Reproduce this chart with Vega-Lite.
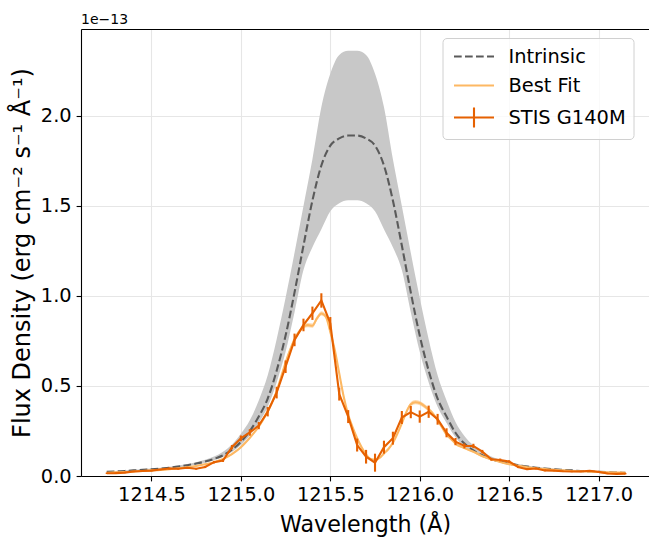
{
 "$schema": "https://vega.github.io/schema/vega-lite/v6.json",
 "width": 568,
 "height": 447,
 "autosize": {"type": "none"},
 "padding": {"left": 81, "top": 29, "right": 0, "bottom": 61},
 "title": {"text": "1e−13", "anchor": "start", "frame": "group", "fontSize": 14, "font": "DejaVu Sans", "fontWeight": "normal", "color": "#000000", "offset": 5, "baseline": "alphabetic", "dy": 14},
 "config": {
  "view": {"stroke": null},
  "font": "DejaVu Sans",
  "axis": {"labelFont": "DejaVu Sans", "titleFont": "DejaVu Sans", "labelFontSize": 19.4, "titleFontSize": 22.2, "titleFontWeight": "normal", "labelColor": "#000000", "titleColor": "#000000", "domainColor": "#000000", "domainWidth": 1.1, "tickColor": "#000000", "tickWidth": 1.1, "tickSize": 4.9, "labelPadding": 4.9, "gridColor": "#e6e6e6", "gridWidth": 1.1, "labelFlush": false, "labelOverlap": false},
  "legend": {"labelFont": "DejaVu Sans", "labelFontSize": 19.4, "labelColor": "#000000", "symbolSize": 400, "symbolStrokeWidth": 2.1, "symbolOffset": 13, "labelOffset": 23, "rowPadding": 8, "padding": 7, "strokeColor": "#d0d0d0", "fillColor": "rgba(255,255,255,0.8)", "cornerRadius": 4}
 },
 "datasets": {
  "intr": [
   {"w": 1214.25, "f": 0.023, "lo": 0.021, "hi": 0.026},
   {"w": 1214.30, "f": 0.025, "lo": 0.023, "hi": 0.028},
   {"w": 1214.35, "f": 0.028, "lo": 0.026, "hi": 0.031},
   {"w": 1214.40, "f": 0.031, "lo": 0.028, "hi": 0.035},
   {"w": 1214.45, "f": 0.034, "lo": 0.031, "hi": 0.038},
   {"w": 1214.50, "f": 0.037, "lo": 0.034, "hi": 0.041},
   {"w": 1214.55, "f": 0.041, "lo": 0.037, "hi": 0.046},
   {"w": 1214.60, "f": 0.046, "lo": 0.042, "hi": 0.051},
   {"w": 1214.65, "f": 0.052, "lo": 0.047, "hi": 0.058},
   {"w": 1214.70, "f": 0.060, "lo": 0.054, "hi": 0.067},
   {"w": 1214.75, "f": 0.069, "lo": 0.062, "hi": 0.077},
   {"w": 1214.80, "f": 0.080, "lo": 0.074, "hi": 0.090},
   {"w": 1214.85, "f": 0.095, "lo": 0.087, "hi": 0.108},
   {"w": 1214.90, "f": 0.115, "lo": 0.105, "hi": 0.135},
   {"w": 1214.95, "f": 0.146, "lo": 0.133, "hi": 0.175},
   {"w": 1215.00, "f": 0.19, "lo": 0.172, "hi": 0.235},
   {"w": 1215.05, "f": 0.25, "lo": 0.225, "hi": 0.31},
   {"w": 1215.10, "f": 0.33, "lo": 0.295, "hi": 0.42},
   {"w": 1215.15, "f": 0.43, "lo": 0.385, "hi": 0.56},
   {"w": 1215.20, "f": 0.585, "lo": 0.52, "hi": 0.76},
   {"w": 1215.25, "f": 0.78, "lo": 0.69, "hi": 0.99},
   {"w": 1215.30, "f": 1.02, "lo": 0.91, "hi": 1.24},
   {"w": 1215.35, "f": 1.28, "lo": 1.144, "hi": 1.50},
   {"w": 1215.40, "f": 1.53, "lo": 1.27, "hi": 1.76},
   {"w": 1215.45, "f": 1.725, "lo": 1.37, "hi": 2.05},
   {"w": 1215.50, "f": 1.835, "lo": 1.47, "hi": 2.235},
   {"w": 1215.55, "f": 1.875, "lo": 1.515, "hi": 2.339},
   {"w": 1215.60, "f": 1.891, "lo": 1.532, "hi": 2.362},
   {"w": 1215.65, "f": 1.891, "lo": 1.532, "hi": 2.362},
   {"w": 1215.70, "f": 1.875, "lo": 1.515, "hi": 2.339},
   {"w": 1215.75, "f": 1.835, "lo": 1.47, "hi": 2.235},
   {"w": 1215.80, "f": 1.725, "lo": 1.37, "hi": 2.05},
   {"w": 1215.85, "f": 1.53, "lo": 1.27, "hi": 1.76},
   {"w": 1215.90, "f": 1.28, "lo": 1.144, "hi": 1.50},
   {"w": 1215.95, "f": 1.02, "lo": 0.91, "hi": 1.24},
   {"w": 1216.00, "f": 0.78, "lo": 0.69, "hi": 0.99},
   {"w": 1216.05, "f": 0.585, "lo": 0.52, "hi": 0.76},
   {"w": 1216.10, "f": 0.43, "lo": 0.385, "hi": 0.56},
   {"w": 1216.15, "f": 0.33, "lo": 0.295, "hi": 0.42},
   {"w": 1216.20, "f": 0.24, "lo": 0.215, "hi": 0.30},
   {"w": 1216.25, "f": 0.18, "lo": 0.163, "hi": 0.222},
   {"w": 1216.30, "f": 0.142, "lo": 0.13, "hi": 0.17},
   {"w": 1216.35, "f": 0.115, "lo": 0.105, "hi": 0.135},
   {"w": 1216.40, "f": 0.095, "lo": 0.087, "hi": 0.108},
   {"w": 1216.45, "f": 0.080, "lo": 0.074, "hi": 0.090},
   {"w": 1216.50, "f": 0.069, "lo": 0.062, "hi": 0.077},
   {"w": 1216.55, "f": 0.060, "lo": 0.054, "hi": 0.067},
   {"w": 1216.60, "f": 0.052, "lo": 0.047, "hi": 0.058},
   {"w": 1216.65, "f": 0.046, "lo": 0.042, "hi": 0.051},
   {"w": 1216.70, "f": 0.041, "lo": 0.037, "hi": 0.046},
   {"w": 1216.75, "f": 0.037, "lo": 0.034, "hi": 0.041},
   {"w": 1216.80, "f": 0.034, "lo": 0.031, "hi": 0.038},
   {"w": 1216.85, "f": 0.031, "lo": 0.028, "hi": 0.035},
   {"w": 1216.90, "f": 0.028, "lo": 0.026, "hi": 0.031},
   {"w": 1216.95, "f": 0.025, "lo": 0.023, "hi": 0.028},
   {"w": 1217.00, "f": 0.023, "lo": 0.021, "hi": 0.026},
   {"w": 1217.05, "f": 0.021, "lo": 0.019, "hi": 0.024},
   {"w": 1217.10, "f": 0.019, "lo": 0.017, "hi": 0.022},
   {"w": 1217.15, "f": 0.018, "lo": 0.016, "hi": 0.020}
  ],
  "fit": [
   {"w": 1214.25, "f": 0.018, "lo": 0.015, "hi": 0.021},
   {"w": 1214.30, "f": 0.020, "lo": 0.017, "hi": 0.023},
   {"w": 1214.35, "f": 0.022, "lo": 0.019, "hi": 0.025},
   {"w": 1214.40, "f": 0.025, "lo": 0.022, "hi": 0.028},
   {"w": 1214.45, "f": 0.028, "lo": 0.025, "hi": 0.031},
   {"w": 1214.50, "f": 0.031, "lo": 0.028, "hi": 0.034},
   {"w": 1214.55, "f": 0.034, "lo": 0.031, "hi": 0.037},
   {"w": 1214.60, "f": 0.038, "lo": 0.035, "hi": 0.041},
   {"w": 1214.65, "f": 0.043, "lo": 0.040, "hi": 0.046},
   {"w": 1214.70, "f": 0.049, "lo": 0.046, "hi": 0.052},
   {"w": 1214.75, "f": 0.056, "lo": 0.053, "hi": 0.059},
   {"w": 1214.80, "f": 0.065, "lo": 0.062, "hi": 0.068},
   {"w": 1214.85, "f": 0.077, "lo": 0.074, "hi": 0.080},
   {"w": 1214.90, "f": 0.095, "lo": 0.092, "hi": 0.098},
   {"w": 1214.95, "f": 0.122, "lo": 0.116, "hi": 0.128},
   {"w": 1215.000, "f": 0.16, "lo": 0.154, "hi": 0.166},
   {"w": 1215.025, "f": 0.185, "lo": 0.179, "hi": 0.191},
   {"w": 1215.050, "f": 0.212, "lo": 0.206, "hi": 0.218},
   {"w": 1215.075, "f": 0.242, "lo": 0.236, "hi": 0.248},
   {"w": 1215.100, "f": 0.274, "lo": 0.268, "hi": 0.280},
   {"w": 1215.125, "f": 0.315, "lo": 0.303, "hi": 0.327},
   {"w": 1215.150, "f": 0.36, "lo": 0.348, "hi": 0.372},
   {"w": 1215.175, "f": 0.41, "lo": 0.398, "hi": 0.422},
   {"w": 1215.200, "f": 0.47, "lo": 0.458, "hi": 0.482},
   {"w": 1215.225, "f": 0.55, "lo": 0.538, "hi": 0.562},
   {"w": 1215.250, "f": 0.63, "lo": 0.618, "hi": 0.642},
   {"w": 1215.275, "f": 0.70, "lo": 0.688, "hi": 0.712},
   {"w": 1215.300, "f": 0.76, "lo": 0.748, "hi": 0.772},
   {"w": 1215.325, "f": 0.80, "lo": 0.788, "hi": 0.812},
   {"w": 1215.350, "f": 0.83, "lo": 0.818, "hi": 0.842},
   {"w": 1215.375, "f": 0.838, "lo": 0.826, "hi": 0.850},
   {"w": 1215.400, "f": 0.835, "lo": 0.823, "hi": 0.847},
   {"w": 1215.425, "f": 0.875, "lo": 0.863, "hi": 0.887},
   {"w": 1215.450, "f": 0.903, "lo": 0.891, "hi": 0.915},
   {"w": 1215.475, "f": 0.885, "lo": 0.873, "hi": 0.897},
   {"w": 1215.500, "f": 0.80, "lo": 0.788, "hi": 0.812},
   {"w": 1215.525, "f": 0.70, "lo": 0.688, "hi": 0.712},
   {"w": 1215.550, "f": 0.57, "lo": 0.558, "hi": 0.582},
   {"w": 1215.575, "f": 0.44, "lo": 0.428, "hi": 0.452},
   {"w": 1215.600, "f": 0.34, "lo": 0.328, "hi": 0.352},
   {"w": 1215.625, "f": 0.27, "lo": 0.262, "hi": 0.278},
   {"w": 1215.650, "f": 0.21, "lo": 0.204, "hi": 0.216},
   {"w": 1215.675, "f": 0.16, "lo": 0.154, "hi": 0.166},
   {"w": 1215.700, "f": 0.12, "lo": 0.114, "hi": 0.126},
   {"w": 1215.725, "f": 0.095, "lo": 0.090, "hi": 0.100},
   {"w": 1215.750, "f": 0.09, "lo": 0.085, "hi": 0.095},
   {"w": 1215.775, "f": 0.10, "lo": 0.095, "hi": 0.105},
   {"w": 1215.800, "f": 0.125, "lo": 0.119, "hi": 0.131},
   {"w": 1215.825, "f": 0.15, "lo": 0.144, "hi": 0.156},
   {"w": 1215.850, "f": 0.185, "lo": 0.179, "hi": 0.191},
   {"w": 1215.875, "f": 0.235, "lo": 0.229, "hi": 0.241},
   {"w": 1215.900, "f": 0.293, "lo": 0.285, "hi": 0.301},
   {"w": 1215.925, "f": 0.355, "lo": 0.345, "hi": 0.365},
   {"w": 1215.950, "f": 0.398, "lo": 0.386, "hi": 0.410},
   {"w": 1215.975, "f": 0.41, "lo": 0.398, "hi": 0.422},
   {"w": 1216.000, "f": 0.405, "lo": 0.393, "hi": 0.417},
   {"w": 1216.025, "f": 0.39, "lo": 0.378, "hi": 0.402},
   {"w": 1216.050, "f": 0.37, "lo": 0.358, "hi": 0.382},
   {"w": 1216.075, "f": 0.345, "lo": 0.335, "hi": 0.355},
   {"w": 1216.100, "f": 0.31, "lo": 0.302, "hi": 0.318},
   {"w": 1216.125, "f": 0.27, "lo": 0.263, "hi": 0.277},
   {"w": 1216.150, "f": 0.23, "lo": 0.224, "hi": 0.236},
   {"w": 1216.175, "f": 0.205, "lo": 0.199, "hi": 0.211},
   {"w": 1216.200, "f": 0.18, "lo": 0.174, "hi": 0.186},
   {"w": 1216.25, "f": 0.155, "lo": 0.150, "hi": 0.160},
   {"w": 1216.30, "f": 0.135, "lo": 0.130, "hi": 0.140},
   {"w": 1216.35, "f": 0.11, "lo": 0.106, "hi": 0.114},
   {"w": 1216.40, "f": 0.093, "lo": 0.089, "hi": 0.097},
   {"w": 1216.45, "f": 0.078, "lo": 0.075, "hi": 0.081},
   {"w": 1216.50, "f": 0.066, "lo": 0.063, "hi": 0.069},
   {"w": 1216.55, "f": 0.057, "lo": 0.054, "hi": 0.060},
   {"w": 1216.60, "f": 0.049, "lo": 0.046, "hi": 0.052},
   {"w": 1216.65, "f": 0.043, "lo": 0.040, "hi": 0.046},
   {"w": 1216.70, "f": 0.038, "lo": 0.035, "hi": 0.041},
   {"w": 1216.75, "f": 0.034, "lo": 0.031, "hi": 0.037},
   {"w": 1216.80, "f": 0.031, "lo": 0.028, "hi": 0.034},
   {"w": 1216.85, "f": 0.028, "lo": 0.025, "hi": 0.031},
   {"w": 1216.90, "f": 0.026, "lo": 0.023, "hi": 0.029},
   {"w": 1216.95, "f": 0.024, "lo": 0.021, "hi": 0.027},
   {"w": 1217.00, "f": 0.022, "lo": 0.019, "hi": 0.025},
   {"w": 1217.05, "f": 0.020, "lo": 0.017, "hi": 0.023},
   {"w": 1217.10, "f": 0.019, "lo": 0.016, "hi": 0.022},
   {"w": 1217.15, "f": 0.018, "lo": 0.015, "hi": 0.021}
  ],
  "stis": [
   {"w": 1214.25, "f": 0.015, "lo": 0.011, "hi": 0.019},
   {"w": 1214.30, "f": 0.016, "lo": 0.012, "hi": 0.020},
   {"w": 1214.35, "f": 0.019, "lo": 0.015, "hi": 0.023},
   {"w": 1214.40, "f": 0.025, "lo": 0.021, "hi": 0.029},
   {"w": 1214.45, "f": 0.028, "lo": 0.024, "hi": 0.032},
   {"w": 1214.50, "f": 0.030, "lo": 0.026, "hi": 0.034},
   {"w": 1214.55, "f": 0.036, "lo": 0.032, "hi": 0.040},
   {"w": 1214.60, "f": 0.042, "lo": 0.037, "hi": 0.047},
   {"w": 1214.65, "f": 0.040, "lo": 0.035, "hi": 0.045},
   {"w": 1214.70, "f": 0.046, "lo": 0.041, "hi": 0.051},
   {"w": 1214.75, "f": 0.040, "lo": 0.035, "hi": 0.045},
   {"w": 1214.80, "f": 0.050, "lo": 0.044, "hi": 0.056},
   {"w": 1214.85, "f": 0.077, "lo": 0.070, "hi": 0.084},
   {"w": 1214.90, "f": 0.086, "lo": 0.078, "hi": 0.094},
   {"w": 1214.95, "f": 0.160, "lo": 0.148, "hi": 0.172},
   {"w": 1215.00, "f": 0.209, "lo": 0.193, "hi": 0.225},
   {"w": 1215.05, "f": 0.242, "lo": 0.224, "hi": 0.260},
   {"w": 1215.10, "f": 0.280, "lo": 0.260, "hi": 0.300},
   {"w": 1215.15, "f": 0.357, "lo": 0.331, "hi": 0.383},
   {"w": 1215.20, "f": 0.463, "lo": 0.431, "hi": 0.495},
   {"w": 1215.25, "f": 0.607, "lo": 0.572, "hi": 0.642},
   {"w": 1215.30, "f": 0.756, "lo": 0.721, "hi": 0.791},
   {"w": 1215.35, "f": 0.839, "lo": 0.804, "hi": 0.874},
   {"w": 1215.40, "f": 0.904, "lo": 0.867, "hi": 0.941},
   {"w": 1215.45, "f": 0.975, "lo": 0.935, "hi": 1.015},
   {"w": 1215.50, "f": 0.848, "lo": 0.813, "hi": 0.883},
   {"w": 1215.55, "f": 0.455, "lo": 0.419, "hi": 0.491},
   {"w": 1215.60, "f": 0.330, "lo": 0.294, "hi": 0.366},
   {"w": 1215.65, "f": 0.172, "lo": 0.136, "hi": 0.208},
   {"w": 1215.70, "f": 0.107, "lo": 0.069, "hi": 0.145},
   {"w": 1215.75, "f": 0.074, "lo": 0.024, "hi": 0.124},
   {"w": 1215.80, "f": 0.160, "lo": 0.124, "hi": 0.196},
   {"w": 1215.85, "f": 0.210, "lo": 0.174, "hi": 0.246},
   {"w": 1215.90, "f": 0.325, "lo": 0.289, "hi": 0.361},
   {"w": 1215.95, "f": 0.355, "lo": 0.321, "hi": 0.389},
   {"w": 1216.00, "f": 0.330, "lo": 0.296, "hi": 0.364},
   {"w": 1216.05, "f": 0.357, "lo": 0.323, "hi": 0.391},
   {"w": 1216.10, "f": 0.315, "lo": 0.285, "hi": 0.345},
   {"w": 1216.15, "f": 0.240, "lo": 0.215, "hi": 0.265},
   {"w": 1216.20, "f": 0.191, "lo": 0.171, "hi": 0.211},
   {"w": 1216.25, "f": 0.167, "lo": 0.153, "hi": 0.181},
   {"w": 1216.30, "f": 0.167, "lo": 0.155, "hi": 0.179},
   {"w": 1216.35, "f": 0.135, "lo": 0.125, "hi": 0.145},
   {"w": 1216.40, "f": 0.093, "lo": 0.085, "hi": 0.101},
   {"w": 1216.45, "f": 0.089, "lo": 0.081, "hi": 0.097},
   {"w": 1216.50, "f": 0.080, "lo": 0.073, "hi": 0.087},
   {"w": 1216.55, "f": 0.050, "lo": 0.044, "hi": 0.056},
   {"w": 1216.60, "f": 0.038, "lo": 0.033, "hi": 0.043},
   {"w": 1216.65, "f": 0.042, "lo": 0.037, "hi": 0.047},
   {"w": 1216.70, "f": 0.031, "lo": 0.026, "hi": 0.036},
   {"w": 1216.75, "f": 0.030, "lo": 0.026, "hi": 0.034},
   {"w": 1216.80, "f": 0.026, "lo": 0.022, "hi": 0.030},
   {"w": 1216.85, "f": 0.025, "lo": 0.021, "hi": 0.029},
   {"w": 1216.90, "f": 0.025, "lo": 0.021, "hi": 0.029},
   {"w": 1216.95, "f": 0.029, "lo": 0.025, "hi": 0.033},
   {"w": 1217.00, "f": 0.023, "lo": 0.019, "hi": 0.027},
   {"w": 1217.05, "f": 0.014, "lo": 0.010, "hi": 0.018},
   {"w": 1217.10, "f": 0.012, "lo": 0.008, "hi": 0.016},
   {"w": 1217.15, "f": 0.013, "lo": 0.009, "hi": 0.017}
  ]
 },
 "layer": [
  {
   "data": {"name": "intr"},
   "mark": {"type": "area", "color": "#c8c8c8", "interpolate": "monotone"},
   "encoding": {
    "x": {"field": "w", "type": "quantitative", "scale": {"domain": [1214.106, 1217.282], "nice": false, "zero": false},
          "axis": {"values": [1214.5, 1215.0, 1215.5, 1216.0, 1216.5, 1217.0], "format": ".1f", "title": "Wavelength (Å)", "grid": true, "titlePadding": 9}},
    "y": {"field": "hi", "type": "quantitative", "scale": {"domain": [0, 2.483], "nice": false, "zero": false},
          "axis": {"values": [0, 0.5, 1.0, 1.5, 2.0], "format": ".1f", "title": "Flux Density (erg cm⁻² s⁻¹ Å⁻¹)", "titleFontSize": 24, "grid": true, "titlePadding": 5.6}},
    "y2": {"field": "lo"}
   }
  },
  {
   "data": {"name": "intr"},
   "mark": {"type": "line", "strokeDash": [7.7, 3.3], "strokeWidth": 2.1, "interpolate": "monotone"},
   "encoding": {
    "x": {"field": "w", "type": "quantitative", "axis": {"orient": "top", "labels": false, "ticks": false, "grid": false, "domain": true, "title": null}},
    "y": {"field": "f", "type": "quantitative"},
    "color": {"datum": "Intrinsic", "type": "nominal",
      "scale": {"domain": ["Intrinsic", "Best Fit", "STIS G140M"], "range": ["#5a5a5a", "#fdb863", "#e66101"]},
      "legend": {"title": null, "orient": "none", "legendX": 361.5, "legendY": 9,
        "encode": {"symbols": {"update": {
          "strokeDash": {"signal": "datum.value === 'Intrinsic' ? [7.7, 3.3] : []"},
          "shape": {"signal": "datum.value === 'STIS G140M' ? 'M-2,0H2M0,-1V1' : 'M-2,0H2'"}
        }}}}}
   }
  },
  {
   "data": {"name": "fit"},
   "mark": {"type": "area", "color": "#fdb863", "opacity": 0.5, "interpolate": "monotone"},
   "encoding": {
    "x": {"field": "w", "type": "quantitative", "axis": null},
    "y": {"field": "hi", "type": "quantitative"},
    "y2": {"field": "lo"}
   }
  },
  {
   "data": {"name": "fit"},
   "mark": {"type": "line", "strokeWidth": 2.1, "interpolate": "monotone"},
   "encoding": {
    "x": {"field": "w", "type": "quantitative", "axis": null},
    "y": {"field": "f", "type": "quantitative"},
    "color": {"datum": "Best Fit", "type": "nominal"}
   }
  },
  {
   "data": {"name": "stis"},
   "mark": {"type": "rule", "color": "#e66101", "strokeWidth": 2.1},
   "encoding": {
    "x": {"field": "w", "type": "quantitative", "axis": null},
    "y": {"field": "lo", "type": "quantitative"},
    "y2": {"field": "hi"}
   }
  },
  {
   "data": {"name": "stis"},
   "mark": {"type": "line", "strokeWidth": 2.1},
   "encoding": {
    "x": {"field": "w", "type": "quantitative", "axis": null},
    "y": {"field": "f", "type": "quantitative"},
    "color": {"datum": "STIS G140M", "type": "nominal"}
   }
  }
 ],
 "resolve": {"axis": {"x": "independent"}}
}
